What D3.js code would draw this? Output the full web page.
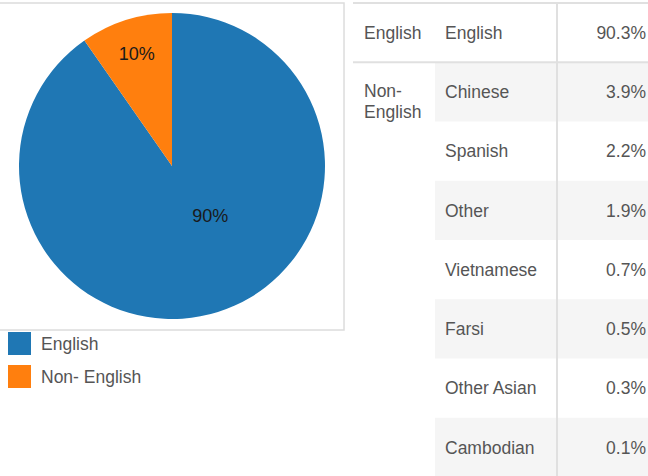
<!DOCTYPE html>
<html>
<head>
<meta charset="utf-8">
<script src="https://cdn.jsdelivr.net/npm/d3@7"></script>
<style>
  body { margin: 0; background: #fff; }
  text { font-family: "Liberation Sans", Arial, sans-serif; }
</style>
</head>
<body>
<div class="chart"></div>
<script>
// pie data
const pieLabels = ['English', 'Non- English'];
const pieValues = [90.3, 9.7];
const pieColors = ['#1f77b4', '#ff7f0e'];

// table data
const groups = ['English', 'Non-English'];
const languages = ['English', 'Chinese', 'Spanish', 'Other', 'Vietnamese', 'Farsi', 'Other Asian', 'Cambodian'];
const langGroups = ['English', 'Non-English', 'Non-English', 'Non-English', 'Non-English', 'Non-English', 'Non-English', 'Non-English'];
const shares = [90.3, 3.9, 2.2, 1.9, 0.7, 0.5, 0.3, 0.1];

const width = 648;
const height = 476;

const svg = d3.select('.chart')
  .append('svg')
    .attr('width', width)
    .attr('height', height);

// PIE PANEL
svg.append('rect')
  .attr('x', -1)
  .attr('y', 3)
  .attr('width', 345)
  .attr('height', 327)
  .style('fill', 'none')
  .style('stroke', '#dcdcdc')
  .style('stroke-width', 1.5);

const radius = 153;
const pieG = svg.append('g')
  .attr('transform', 'translate(172, 166)');

const pie = d3.pie().sort(null).value(d => d);
const arcs = pie(pieValues);
const arc = d3.arc().innerRadius(0).outerRadius(radius);

pieG.selectAll('.slice')
  .data(arcs)
  .enter()
  .append('path')
  .attr('class', 'slice')
  .attr('d', arc)
  .style('fill', (d, i) => pieColors[i]);

const total = d3.sum(pieValues);
pieG.selectAll('.pct')
  .data(arcs)
  .enter()
  .append('text')
  .attr('class', 'pct')
  .attr('transform', d => {
    const big = (d.endAngle - d.startAngle) > Math.PI;
    // big slice label sits closer to center and rotated toward the slice bulk
    const a = (d.startAngle + d.endAngle) / 2 - (big ? 0.35 : 0);
    const r = radius * (big ? 0.41 : 0.77);
    return `translate(${Math.sin(a) * r}, ${-Math.cos(a) * r})`;
  })
  .attr('dy', '0.36em')
  .attr('text-anchor', 'middle')
  .style('font-size', '18px')
  .style('fill', '#1a1a1a')
  .text(d => Math.round(d.data / total * 100) + '%');

// legend
const legend = svg.selectAll('.legend')
  .data(pieLabels)
  .enter()
  .append('g')
  .attr('class', 'legend')
  .attr('transform', (d, i) => `translate(8, ${332 + i * 33})`);

legend.append('rect')
  .attr('width', 23)
  .attr('height', 23)
  .style('fill', (d, i) => pieColors[i]);

legend.append('text')
  .attr('x', 33)
  .attr('y', 11.5)
  .attr('dy', '0.36em')
  .style('font-size', '17.5px')
  .style('fill', '#555')
  .text(d => d);

// TABLE
const rowScale = d3.scaleBand()
  .domain(languages)
  .range([3, 477]);
const rowH = rowScale.bandwidth();

const colGroup = 364, colLang = 435, colSplit = 557, colRight = 646;

const rows = svg.selectAll('.row')
  .data(languages)
  .enter()
  .append('g')
  .attr('class', 'row')
  .attr('transform', d => `translate(0, ${rowScale(d)})`);

// zebra shading inside each group
rows.append('rect')
  .attr('x', colLang)
  .attr('width', width - colLang)
  .attr('height', rowH)
  .style('fill', (d, i) => {
    const idx = i - langGroups.indexOf(langGroups[i]);
    return langGroups[i] !== 'English' && idx % 2 === 0 ? '#f5f5f5' : 'none';
  });

rows.append('text')
  .attr('x', colLang + 10)
  .attr('y', rowH / 2)
  .attr('dy', '0.36em')
  .style('font-size', '17.5px')
  .style('fill', '#555')
  .text(d => d);

rows.append('text')
  .attr('x', colRight)
  .attr('y', rowH / 2)
  .attr('dy', '0.36em')
  .attr('text-anchor', 'end')
  .style('font-size', '17.5px')
  .style('fill', '#555')
  .text((d, i) => shares[i].toFixed(1) + '%');

// group labels
const groupText = svg.selectAll('.group')
  .data(groups)
  .enter()
  .append('text')
  .attr('class', 'group')
  .attr('x', colGroup)
  .attr('y', d => rowScale(languages[langGroups.indexOf(d)]) + rowH / 2)
  .style('font-size', '17.5px')
  .style('fill', '#555');

groupText.each(function(d) {
  const parts = d.includes('-') ? [d.split('-')[0] + '-', d.split('-')[1]] : [d];
  const sel = d3.select(this);
  parts.forEach((p, i) => {
    sel.append('tspan')
      .attr('x', colGroup)
      .attr('dy', i === 0 ? (parts.length > 1 ? '0.3em' : '0.36em') : '1.2em')
      .text(p);
  });
});

// grid lines
const lineColor = '#e0e0e0';
svg.append('line')
  .attr('x1', 353).attr('x2', width)
  .attr('y1', 3).attr('y2', 3)
  .style('stroke', lineColor).style('stroke-width', 2);

groups.forEach((g, gi) => {
  if (gi === 0) return;
  const y = rowScale(languages[langGroups.indexOf(g)]);
  svg.append('line')
    .attr('x1', 353).attr('x2', width)
    .attr('y1', y).attr('y2', y)
    .style('stroke', lineColor).style('stroke-width', 2);
});

svg.append('line')
  .attr('x1', colSplit).attr('x2', colSplit)
  .attr('y1', 3).attr('y2', height)
  .style('stroke', lineColor).style('stroke-width', 2);
</script>
</body>
</html>
